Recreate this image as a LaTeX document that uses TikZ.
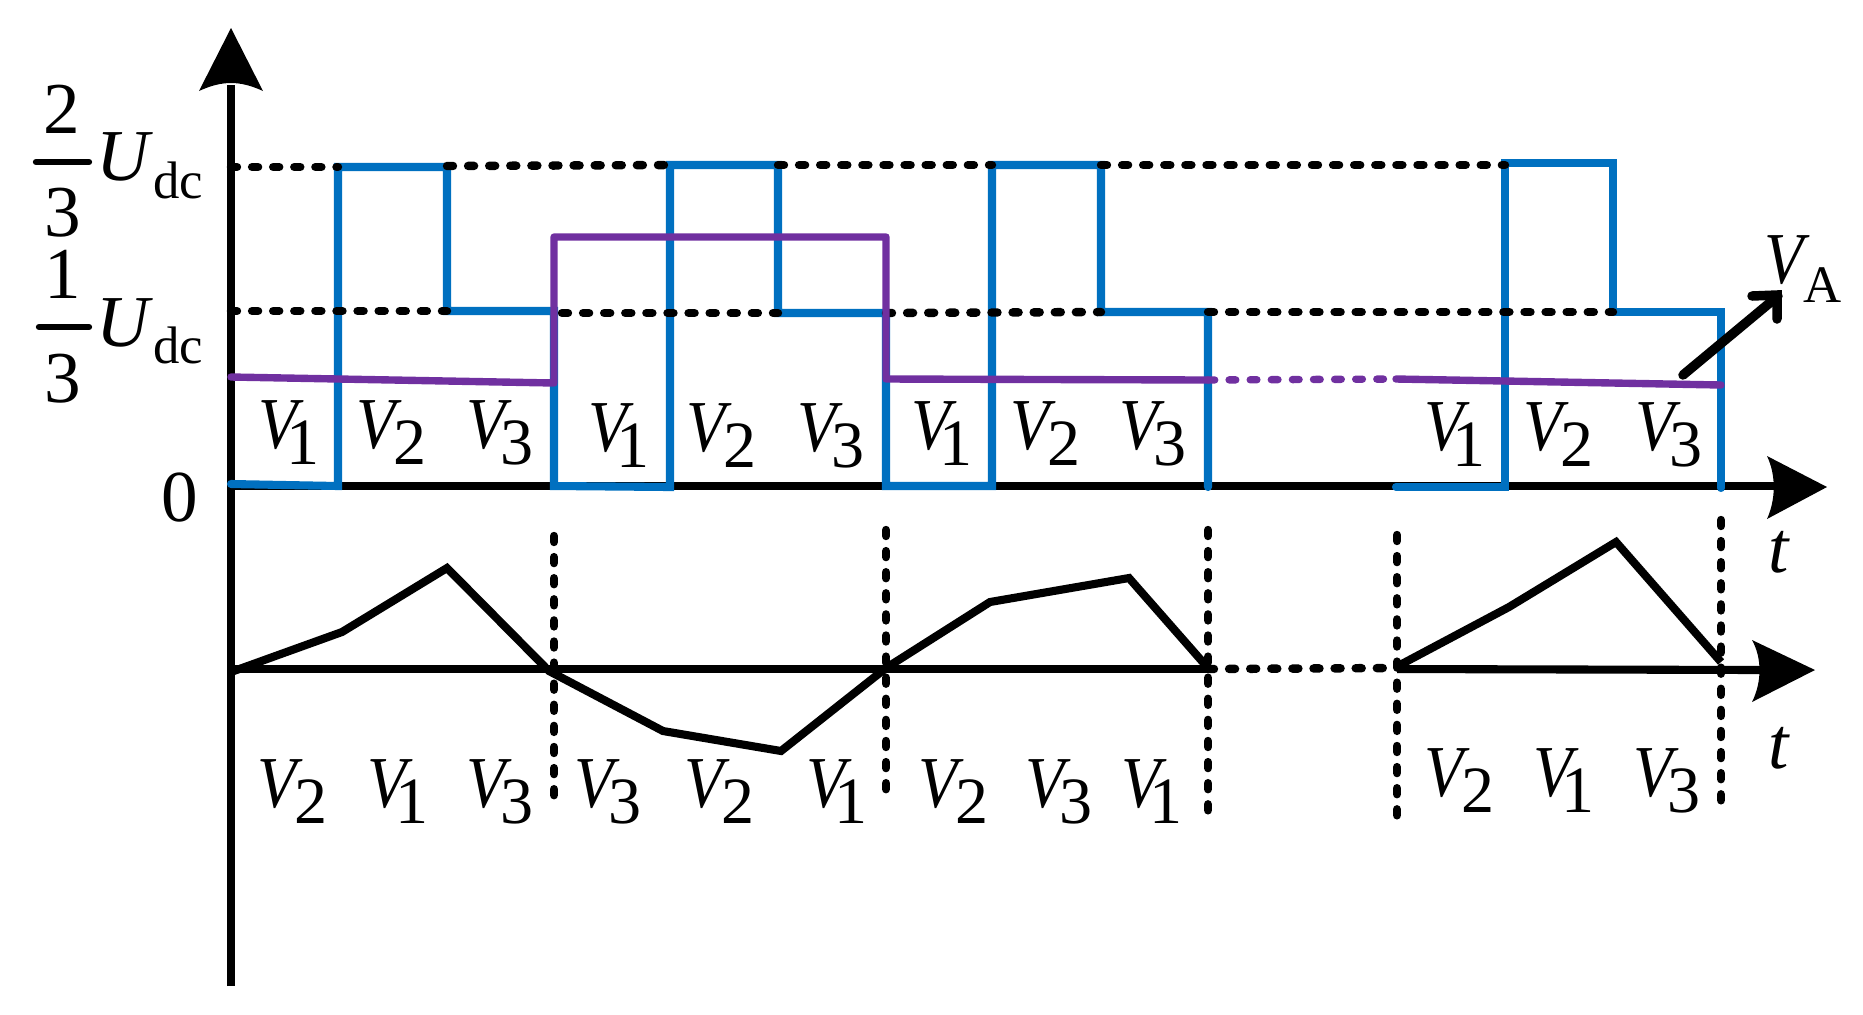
\documentclass[tikz,border=0pt]{standalone}
\usepackage{fontspec}
\setmainfont{Liberation Serif}
\definecolor{lblue}{HTML}{0070C0}
\definecolor{lpurple}{HTML}{7030A0}
\tikzset{
  axisline/.style={line width=2.3pt,black},
  bluewave/.style={line width=2.3pt,lblue,line join=miter},
  purplewave/.style={line width=2.1pt,lpurple,line join=round},
  blackwave/.style={line width=2.3pt,black,line join=miter},
  dotsb/.style={line width=2.4pt,black,line cap=round,dash pattern=on 1.7pt off 4.3pt},
  dotsp/.style={line width=2.1pt,lpurple,line cap=round,dash pattern=on 1.9pt off 4.1pt},
  txt/.style={inner sep=0pt,outer sep=0pt,anchor=base west,font=\fontsize{20.8}{24}\selectfont},
  txtc/.style={inner sep=0pt,outer sep=0pt,anchor=base,font=\fontsize{20.8}{24}\selectfont},
  small/.style={inner sep=0pt,outer sep=0pt,anchor=base west,font=\fontsize{15}{18}\selectfont},
}
\newcommand{\slimV}{\scalebox{0.88}[1]{\textit{V}}}
\newcommand{\vlab}[4]{\node[txt] (#1) at (#2-5,#3) {\rlap{\slimV}\kern\ifcase#4\or8.0\or10.6\or9.8\fi pt\raisebox{-4.6pt}{\fontsize{18.8}{22}\selectfont #4}};}
\begin{document}
\begin{tikzpicture}[x=0.01cm,y=-0.01cm]
\useasboundingbox (0,0) rectangle (1863,1014);
% axes
\coordinate (ybot) at (231,986);
\coordinate (ytop) at (231,85);
\coordinate (xleft) at (231,486);
\coordinate (xright) at (1778,486);
\coordinate (x2left) at (231,669);
\coordinate (x2a) at (1208,669);
\coordinate (x2b) at (1397,669);
\coordinate (x2right) at (1760,670);
\draw[axisline] (ybot) -- (ytop);
\draw[axisline] (xleft) -- (xright);
\draw[axisline] (x2left) -- (x2a);
\draw[axisline] (x2b) -- (x2right);
\fill (231,28) -- (263,91) .. controls (250,85) and (240,83) .. (231,83) .. controls (222,83) and (212,85) .. (199,91) -- cycle;
\fill (1827,487) -- (1767,456) .. controls (1776,475) and (1776,499) .. (1767,519) -- cycle;
\fill (1815,670) -- (1752,640) .. controls (1762,658) and (1762,682) .. (1752,702) -- cycle;
% blue waves
\draw[bluewave,line cap=round] (231,484) -- (338,486) -- (338,167) -- (447,167) -- (447,311) -- (554,311) -- (554,486) -- (670,487) -- (670,165) -- (778,165) -- (778,313) -- (886,313) -- (886,486) -- (992,486) -- (992,165) -- (1101,165) -- (1101,312) -- (1208,312) -- (1208,487);
\draw[bluewave,line cap=round] (1396,487) -- (1505,487) -- (1505,163) -- (1613,163) -- (1613,312) -- (1721,312) -- (1721,488);
% dotted levels
\draw[dotsb] (231,167) -- (338,167);
\draw[dotsb] (447,166) -- (670,165);
\draw[dotsb] (778,165) -- (992,165);
\draw[dotsb] (1101,165) -- (1505,165);
\draw[dotsb] (231,311) -- (447,311);
\draw[dotsb] (562,313) -- (778,313);
\draw[dotsb] (886,313) -- (1101,312);
\draw[dotsb] (1208,312) -- (1613,312);
\draw[dotsb] (1208,669) -- (1397,668);
\draw[dotsb] (554,536) -- (554,805);
\draw[dotsb] (886,530) -- (886,797);
\draw[dotsb] (1208,530) -- (1208,820);
\draw[dotsb] (1397,535) -- (1397,820);
\draw[dotsb] (1721,520) -- (1721,808);
% purple wave
\draw[purplewave,line cap=round] (231,377) -- (554,383) -- (554,237) -- (886,237) -- (886,379) -- (1208,380);
\draw[dotsp] (1208,380) -- (1396,379);
\draw[purplewave,line cap=round] (1396,379) -- (1721,385);
% black wave
\draw[blackwave] (231,672) -- (342,632) -- (447,568) -- (549,671) -- (663,731) -- (781,751) -- (886,668) -- (990,602) -- (1129,578) -- (1208,668);
\draw[blackwave] (1398,666) -- (1509,607) -- (1616,542) -- (1721,662);
% VA arrow
\draw[line width=2.7pt,line cap=round,line join=miter] (1683,375) -- (1778,296);
\draw[line width=2.7pt,line cap=round,line join=miter] (1752,296) -- (1777,295) -- (1777,319);
% labels
\node[txtc] (n2) at (62,133) {2};
\draw[line width=1.8pt,line cap=round] (36,162) -- (89,162);
\node[txtc] (d3a) at (63,236) {3};
\node[txt] (u1) at (96,180) {\textit{U}};
\node[small] (dc1) at (153,198) {dc};
\node[txtc] (n1) at (63,298) {1};
\draw[line width=1.8pt,line cap=round] (39,327) -- (89,327);
\node[txtc] (d3b) at (63,402) {3};
\node[txt] (u2) at (96,346) {\textit{U}};
\node[small] (dc2) at (153,363) {dc};
\node[txtc] (zero) at (180,521) {0};
\node[txt] (t1) at (1768,572) {\textit{t}};
\node[txt] (t2) at (1768,768) {\textit{t}};
\node[txt] (va) at (1764,283) {\slimV};
\node[small] (vasub) at (1803,302) {A};
% row 1
\vlab{a1}{263}{448}{1}
\vlab{a2}{361}{448}{2}
\vlab{a3}{471}{448}{3}
\vlab{a4}{593}{451}{1}
\vlab{a5}{691}{451}{2}
\vlab{a6}{802}{451}{3}
\vlab{a7}{916}{449}{1}
\vlab{a8}{1015}{449}{2}
\vlab{a9}{1124}{449}{3}
\vlab{a10}{1429}{450}{1}
\vlab{a11}{1528}{450}{2}
\vlab{a12}{1640}{450}{3}
% row 2
\vlab{b1}{262}{807}{2}
\vlab{b2}{372}{807}{1}
\vlab{b3}{471}{807}{3}
\vlab{b4}{579}{807}{3}
\vlab{b5}{689}{807}{2}
\vlab{b6}{811}{807}{1}
\vlab{b7}{923}{807}{2}
\vlab{b8}{1030}{807}{3}
\vlab{b9}{1126}{807}{1}
\vlab{b10}{1429}{796}{2}
\vlab{b11}{1538}{796}{1}
\vlab{b12}{1638}{796}{3}
\end{tikzpicture}
\end{document}
